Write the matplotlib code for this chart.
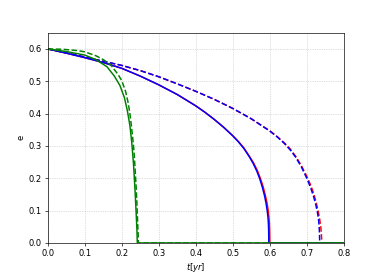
import matplotlib
matplotlib.use("Agg")
import matplotlib.pyplot as plt

# Solid red
t_red_solid = [0, 0.05, 0.1, 0.15, 0.2, 0.25, 0.3, 0.35, 0.4, 0.425, 0.45, 0.475, 0.5, 0.515, 0.53, 0.545, 0.556, 0.566, 0.5745, 0.582, 0.588, 0.5925, 0.5955, 0.5975, 0.599, 0.5996, 0.5999, 0.6002, 0.8]
e_red_solid = [0.6, 0.587, 0.573, 0.558, 0.540, 0.516, 0.489, 0.459, 0.424, 0.404, 0.382, 0.358, 0.332, 0.314, 0.294, 0.268, 0.248, 0.225, 0.200, 0.174, 0.147, 0.124, 0.102, 0.082, 0.06, 0.04, 0.02, 0.0, 0.0]
# Solid blue
t_blue_solid = [0, 0.05, 0.1, 0.15, 0.2, 0.25, 0.3, 0.35, 0.4, 0.425, 0.45, 0.475, 0.5, 0.515, 0.53, 0.545, 0.555, 0.565, 0.573, 0.58, 0.586, 0.59, 0.593, 0.595, 0.5963, 0.5969, 0.5972, 0.5973, 0.8]
e_blue_solid = [0.6, 0.587, 0.573, 0.558, 0.540, 0.516, 0.489, 0.459, 0.424, 0.404, 0.382, 0.358, 0.331, 0.313, 0.292, 0.266, 0.246, 0.222, 0.198, 0.172, 0.145, 0.122, 0.100, 0.080, 0.06, 0.04, 0.02, 0.0, 0.0]
# Dashed red
t_red_dash = [0, 0.05, 0.1, 0.15, 0.2, 0.25, 0.3, 0.35, 0.4, 0.45, 0.5, 0.55, 0.6, 0.62, 0.64, 0.655, 0.67, 0.685, 0.7, 0.71, 0.718, 0.725, 0.731, 0.735, 0.7378, 0.7393, 0.7402, 0.7405, 0.8]
e_red_dash = [0.6, 0.588, 0.575, 0.562, 0.549, 0.533, 0.514, 0.492, 0.469, 0.444, 0.416, 0.384, 0.347, 0.329, 0.309, 0.291, 0.268, 0.240, 0.206, 0.180, 0.155, 0.127, 0.097, 0.072, 0.05, 0.03, 0.01, 0.0, 0.0]
# Dashed blue
t_blue_dash = [0, 0.05, 0.1, 0.15, 0.2, 0.25, 0.3, 0.35, 0.4, 0.45, 0.5, 0.55, 0.6, 0.62, 0.64, 0.655, 0.67, 0.685, 0.7, 0.71, 0.718, 0.724, 0.729, 0.732, 0.7335, 0.7343, 0.7347, 0.7348, 0.8]
e_blue_dash = [0.6, 0.588, 0.575, 0.562, 0.549, 0.533, 0.514, 0.492, 0.469, 0.444, 0.416, 0.384, 0.346, 0.328, 0.307, 0.288, 0.265, 0.236, 0.200, 0.172, 0.145, 0.120, 0.093, 0.07, 0.05, 0.03, 0.01, 0.0, 0.0]
# Solid green
t_green_solid = [0, 0.05, 0.1, 0.13, 0.16, 0.18, 0.195, 0.207, 0.215, 0.222, 0.227, 0.232, 0.236, 0.239, 0.241, 0.242, 0.8]
e_green_solid = [0.6, 0.592, 0.581, 0.567, 0.545, 0.516, 0.487, 0.45, 0.41, 0.363, 0.311, 0.24, 0.16, 0.09, 0.04, 0.0, 0.0]
# Dashed green
t_green_dash = [0, 0.04, 0.08, 0.1, 0.13, 0.15, 0.17, 0.19, 0.2, 0.21, 0.217, 0.222, 0.226, 0.23, 0.233, 0.236, 0.239, 0.241, 0.243, 0.2445, 0.245, 0.8]
e_green_dash = [0.6, 0.599, 0.595, 0.591, 0.579, 0.567, 0.551, 0.521, 0.502, 0.47, 0.435, 0.40, 0.363, 0.32, 0.285, 0.23, 0.17, 0.12, 0.06, 0.02, 0.0, 0.0]

x_ticks = [0.0, 0.1, 0.2, 0.3, 0.4, 0.5, 0.6, 0.7, 0.8]
y_ticks = [0.0, 0.1, 0.2, 0.3, 0.4, 0.5, 0.6]

fig = plt.figure(figsize=(382/60, 273/60), dpi=60)
ax = fig.add_subplot(111)
lw = 1.8
ax.plot(t_red_solid, e_red_solid, color='r', lw=lw)
ax.plot(t_red_dash, e_red_dash, color='r', lw=lw, ls='--')
ax.plot(t_blue_solid, e_blue_solid, color='b', lw=lw)
ax.plot(t_blue_dash, e_blue_dash, color='b', lw=lw, ls='--')
ax.plot(t_green_solid, e_green_solid, color='g', lw=lw)
ax.plot(t_green_dash, e_green_dash, color='g', lw=lw, ls='--')

ax.set_xlim(0, 0.8)
ax.set_ylim(0, 0.65)
ax.set_xticks(x_ticks)
ax.set_yticks(y_ticks)
ax.grid(True, ls=':', color='#bbbbbb', lw=0.8)
ax.set_xlabel('$t[yr]$')
ax.set_ylabel('e')

fig.savefig('out.png', dpi=60)
